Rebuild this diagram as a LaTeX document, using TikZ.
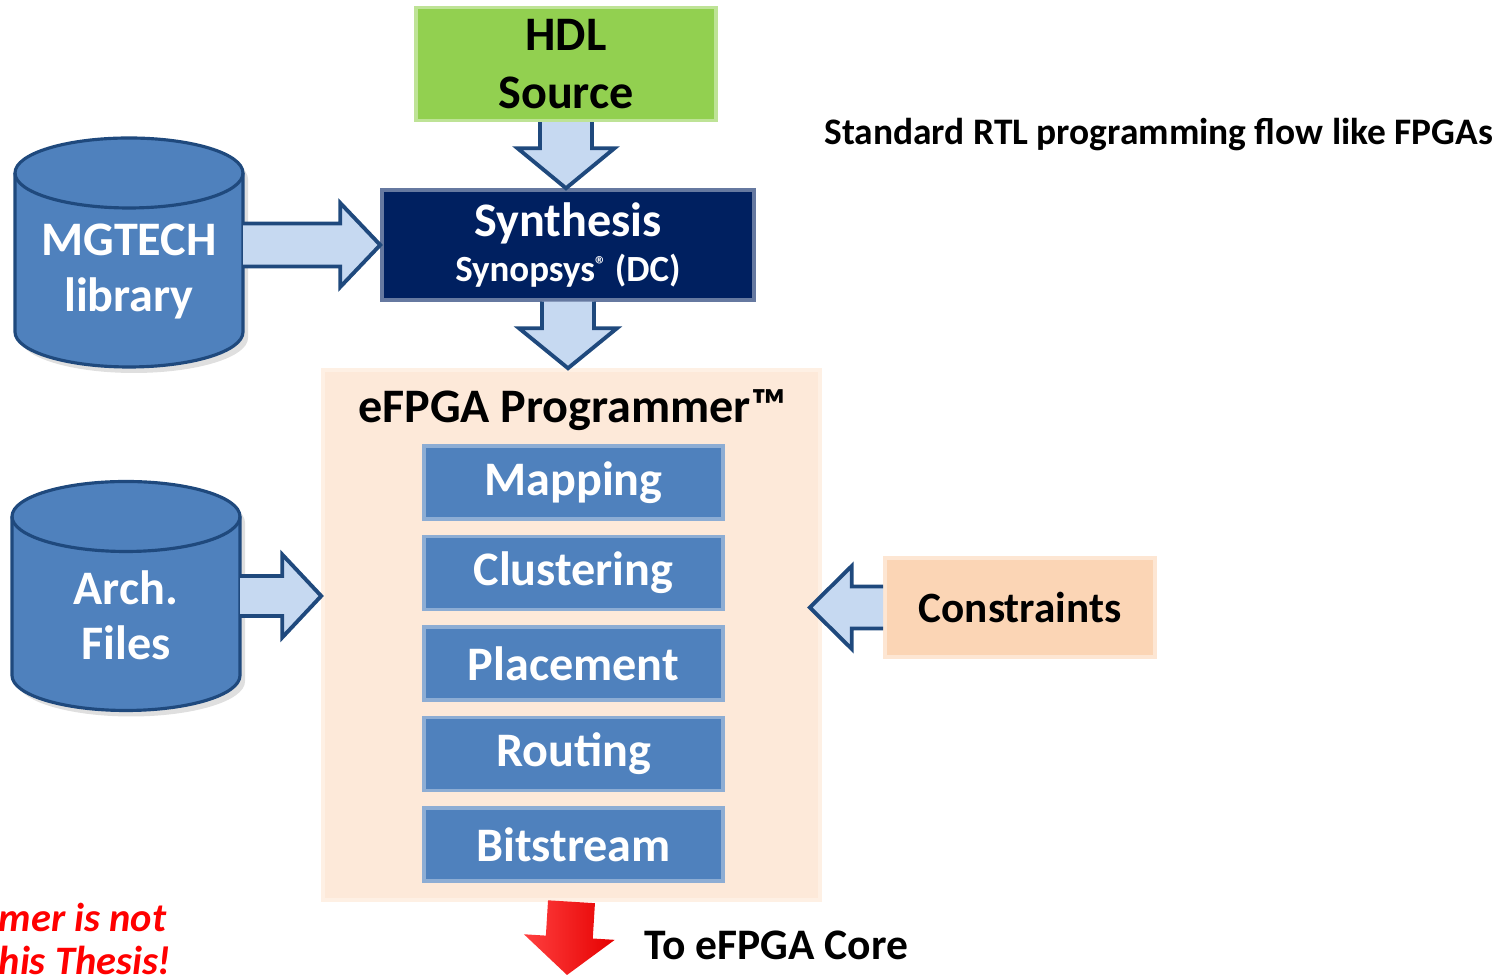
\documentclass[tikz,border=0pt]{standalone}
\usepackage{fontspec}
\setmainfont{Carlito}
\usetikzlibrary{arrows.meta}
\usetikzlibrary{shapes}
\usetikzlibrary{positioning,calc,shadows,backgrounds}

\definecolor{hdlgreen}{HTML}{92D050}
\definecolor{synnavy}{HTML}{002060}
\definecolor{stepblue}{HTML}{4F81BD}
\definecolor{arrowfill}{HTML}{C6D9F1}
\definecolor{arrowline}{HTML}{1F497D}
\definecolor{progpeach}{HTML}{FDE9D9}
\definecolor{conspeach}{HTML}{FBD5B5}
\definecolor{notered}{HTML}{FF0000}

\tikzset{
  bigfont/.style={font=\fontsize{13.7}{16.5}\selectfont\bfseries},
  stepbox/.style={rectangle,fill=stepblue,draw=stepblue!65!white,line width=1pt,
    minimum width=2.99cm,minimum height=0.73cm,text=white,bigfont},
  database/.style={rectangle,outer sep=0pt,minimum width=2.28cm,minimum height=2.29cm,
    text=white,align=center,bigfont},
  dbline/.style={draw=arrowline,line width=0.9pt,fill=stepblue},
  fatarrow/.style={fill=arrowfill,draw=arrowline,line width=1.1pt,line join=miter},
  redarrow/.style={left color=red!75!white,right color=red!90!black,draw=none},
}

% block arrow: [style]{from}{to}{shaft half width}{head half width}{head length}
\newcommand{\blockarrow}[6][fatarrow]{%
  \path (#2) coordinate (ba-s) (#3) coordinate (ba-t);
  \path ($(ba-t)!#6!(ba-s)$) coordinate (ba-b);
  \draw[#1] ($(ba-s)!#4!90:(ba-t)$) -- ($(ba-b)!#4!90:(ba-t)$) -- ($(ba-b)!#5!90:(ba-t)$)
    -- (ba-t) -- ($(ba-b)!#5!-90:(ba-t)$) -- ($(ba-b)!#4!-90:(ba-t)$) -- ($(ba-s)!#4!-90:(ba-t)$);
}
% cylinder drawn round a database node
\newcommand{\dbdraw}[1]{%
  \draw[dbline,drop shadow={opacity=0.25,shadow xshift=0.05,shadow yshift=-0.06}]
    ($(#1.north west)+(0,-0.35)$) -- ($(#1.south west)+(0,0.35)$)
    arc[start angle=180,end angle=360,x radius=1.14cm,y radius=0.35cm]
    -- ($(#1.north east)+(0,-0.35)$)
    arc[start angle=0,end angle=180,x radius=1.14cm,y radius=0.35cm] -- cycle;
  \draw[dbline,fill=none] ($(#1.north west)+(0,-0.35)$)
    arc[start angle=180,end angle=360,x radius=1.14cm,y radius=0.35cm];
}

\begin{document}
\begin{tikzpicture}
\useasboundingbox (0,0) rectangle (15.09,-9.77);

\node(hdl) at (5.66,-0.64) [rectangle,fill=hdlgreen,draw=hdlgreen!60!white,line width=1pt,minimum width=3.00cm,minimum height=1.12cm,align=center,bigfont]{HDL\\Source};
\node(syn) at (5.68,-2.45) [rectangle,fill=synnavy,draw=synnavy!60!white,line width=1pt,inner ysep=0pt,minimum width=3.72cm,minimum height=1.10cm,align=center,text=white]{{\fontsize{13.7}{16}\selectfont\bfseries Synthesis}\\[1pt]{\fontsize{10.5}{12}\selectfont\bfseries Synopsys\raisebox{0.5ex}{\fontsize{6.5}{7}\selectfont ®} (DC)}};
\node(info) at (8.12,-1.35) [anchor=west,font=\fontsize{10.65}{12}\selectfont\bfseries]{Standard RTL programming flow like FPGAs};

% databases, text sits a little below the middle
\node(mg) at (1.29,-2.525) [database]{\raisebox{-0.19cm}[\height][\depth]{\shortstack{MGTECH\\[3pt]library}}};
\node(arch) at (1.26,-5.96) [database]{\raisebox{-0.19cm}[\height][\depth]{\shortstack{Arch.\\[3pt]Files}}};
\begin{scope}[on background layer]
\dbdraw{mg}
\dbdraw{arch}
\end{scope}

\node(efpga) at (5.715,-6.35) [rectangle,fill=progpeach,draw=progpeach!70!white,line width=1pt,minimum width=4.97cm,minimum height=5.30cm]{};
\node(title) at (5.72,-4.10) [bigfont]{eFPGA Programmer™};
\node(map) at (5.735,-4.825) [stepbox]{Mapping};
\node(clu) [stepbox,below=0.14cm of map]{Clustering};
\node(pla) [stepbox,below=0.14cm of clu]{Placement};
\node(rou) [stepbox,below=0.14cm of pla]{Routing};
\node(bit) [stepbox,below=0.14cm of rou]{Bitstream};

\node(cons) at (10.20,-6.075) [rectangle,fill=conspeach,draw=conspeach!60!white,line width=1pt,minimum width=2.70cm,minimum height=0.99cm,font=\fontsize{12.3}{14}\selectfont\bfseries]{Constraints};

\coordinate(core) at (5.67,-9.75);
\node(out) at (6.32,-9.45) [anchor=west,font=\fontsize{12.4}{14}\selectfont\bfseries]{To eFPGA Core};
\node(note) at (-0.02,-9.39) [anchor=west,align=left,inner sep=0pt,text=notered,font=\fontsize{11.5}{12.3}\selectfont\bfseries\itshape]{mer is not\\his Thesis!};

\blockarrow{hdl.south}{hdl.south |- syn.north}{0.26cm}{0.485cm}{0.40cm}
\blockarrow{syn.south}{syn.south |- efpga.north}{0.26cm}{0.49cm}{0.40cm}
\blockarrow{syn.west -| mg.east}{syn.west}{0.215cm}{0.42cm}{0.40cm}
\blockarrow{arch.east}{arch.east -| efpga.west}{0.20cm}{0.415cm}{0.39cm}
\blockarrow{cons.west}{[xshift=-0.12cm]cons.west -| efpga.east}{0.21cm}{0.415cm}{0.42cm}
\blockarrow[redarrow]{efpga.south}{core}{0.235cm}{0.455cm}{0.38cm}
\end{tikzpicture}
\end{document}
